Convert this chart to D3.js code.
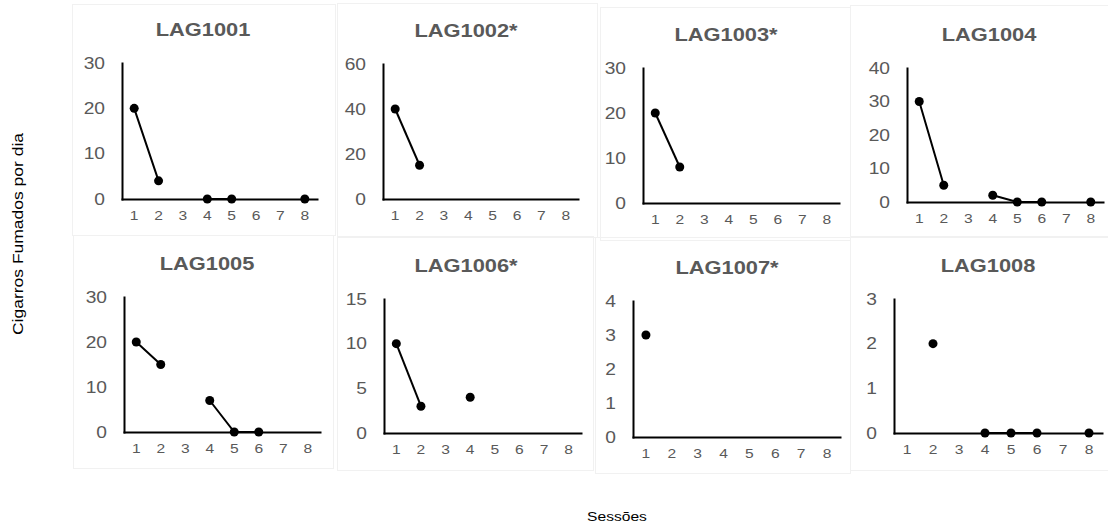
<!DOCTYPE html>
<html>
<head>
<meta charset="utf-8">
<script src="https://cdn.jsdelivr.net/npm/d3@7"></script>
<style>
  body { margin: 0; background: #fff; }
  svg { display: block; font-family: "Liberation Sans", Arial, sans-serif; }
</style>
</head>
<body>
<svg id="chart" width="1108" height="523"></svg>
<script>
// sessions on the x axis (category axis, missing sessions leave gaps)
const sessions = ["1", "2", "3", "4", "5", "6", "7", "8"];
const participants = ["LAG1001", "LAG1002*", "LAG1003*", "LAG1004", "LAG1005", "LAG1006*", "LAG1007*", "LAG1008"];

// cigarettes smoked per day, one array per participant (null = no record)
const lag1001 = [20, 4, null, 0, 0, null, null, 0];
const lag1002 = [40, 15, null, null, null, null, null, null];
const lag1003 = [20, 8, null, null, null, null, null, null];
const lag1004 = [30, 5, null, 2, 0, 0, null, 0];
const lag1005 = [20, 15, null, 7, 0, 0, null, null];
const lag1006 = [10, 3, null, 4, null, null, null, null];
const lag1007 = [3, null, null, null, null, null, null, null];
const lag1008 = [null, 2, null, 0, 0, 0, null, 0];
const series = [lag1001, lag1002, lag1003, lag1004, lag1005, lag1006, lag1007, lag1008];

// y axis maximum and tick labels per panel
const yMax = [30, 60, 30, 40, 30, 15, 4, 3];
const yTicks = [
    [0, 10, 20, 30],
    [0, 20, 40, 60],
    [0, 10, 20, 30],
    [0, 10, 20, 30, 40],
    [0, 10, 20, 30],
    [0, 5, 10, 15],
    [0, 1, 2, 3, 4],
    [0, 1, 2, 3]
];

// panel boxes and plot areas (the panels were pasted side by side, so they don't line up exactly)
const layout = [
    {box: [72, 4, 335, 235],    plot: [122, 63, 317, 199],  tx: 203},
    {box: [337, 3, 597, 237],   plot: [383, 64, 578, 199],  tx: 466},
    {box: [600, 7, 850, 240],   plot: [643, 68, 839, 203],  tx: 726},
    {box: [850, 5, 1110, 237],  plot: [907, 68, 1103, 202], tx: 989},
    {box: [73, 235, 333, 468],  plot: [124, 297, 320, 432], tx: 207},
    {box: [337, 236, 593, 470], plot: [384, 299, 581, 433], tx: 466},
    {box: [595, 237, 850, 473], plot: [633, 301, 840, 437], tx: 727},
    {box: [850, 236, 1110, 470], plot: [894, 299, 1102, 433], tx: 988}
];

const svg = d3.select("#chart");
const sx = 1.2; // text in the source image is a bit stretched horizontally

participants.forEach((name, i) => {
    const L = layout[i];
    const g = svg.append("g");

    // faint panel frame
    g.append("rect")
        .attr("x", L.box[0] + 0.5)
        .attr("y", L.box[1] + 0.5)
        .attr("width", L.box[2] - L.box[0])
        .attr("height", L.box[3] - L.box[1])
        .attr("fill", "none")
        .attr("stroke", "#f1f1f1");

    const x = d3.scaleBand().domain(sessions).range([L.plot[0], L.plot[2]]);
    const y = d3.scaleLinear().domain([0, yMax[i]]).range([L.plot[3], L.plot[1]]);

    // y axis
    const yAxis = g.append("g")
        .attr("transform", `translate(${L.plot[0]},0)`)
        .call(d3.axisLeft(y).tickValues(yTicks[i]).tickSize(0).tickSizeOuter(0).tickFormat(d3.format("d")));
    yAxis.select(".domain").attr("stroke", "#000").attr("stroke-width", 2).attr("stroke-linecap", "square");
    yAxis.selectAll(".tick text")
        .attr("x", 0)
        .attr("transform", `translate(-17,0) scale(${sx},1)`)
        .attr("fill", "#595959")
        .style("font-size", "16px");

    // x axis
    const xAxis = g.append("g")
        .attr("transform", `translate(0,${L.plot[3]})`)
        .call(d3.axisBottom(x).tickSize(0).tickSizeOuter(0).tickPadding(12));
    xAxis.select(".domain").attr("stroke", "#000").attr("stroke-width", 2).attr("stroke-linecap", "square");
    xAxis.selectAll(".tick text")
        .attr("transform", `scale(${sx},1)`)
        .attr("fill", "#595959")
        .style("font-size", "13px");

    // series line, broken where a session is missing
    const pts = sessions.map((s, j) => ({s: s, v: series[i][j]}));
    const cx = d => x(d.s) + x.bandwidth() / 2;
    const line = d3.line()
        .defined(d => d.v !== null)
        .x(cx)
        .y(d => y(d.v));

    g.append("path")
        .attr("d", line(pts))
        .attr("fill", "none")
        .attr("stroke", "#000")
        .attr("stroke-width", 2);

    g.selectAll("circle")
        .data(pts.filter(d => d.v !== null))
        .enter()
        .append("circle")
        .attr("cx", cx)
        .attr("cy", d => y(d.v))
        .attr("r", 4.5)
        .attr("fill", "#000");

    // panel title
    g.append("text")
        .attr("transform", `translate(${L.tx},${L.plot[1] - 27}) scale(1.15,1)`)
        .attr("text-anchor", "middle")
        .attr("fill", "#595959")
        .style("font-size", "19px")
        .style("font-weight", "bold")
        .text(name);
});

// shared axis titles
svg.append("text")
    .attr("transform", "translate(23,234) rotate(-90) scale(1.25,1)")
    .attr("text-anchor", "middle")
    .attr("fill", "#000")
    .style("font-size", "14px")
    .text("Cigarros Fumados por dia");

svg.append("text")
    .attr("transform", `translate(617,521) scale(${sx},1)`)
    .attr("text-anchor", "middle")
    .attr("fill", "#000")
    .style("font-size", "13px")
    .text("Sessões");
</script>
</body>
</html>
